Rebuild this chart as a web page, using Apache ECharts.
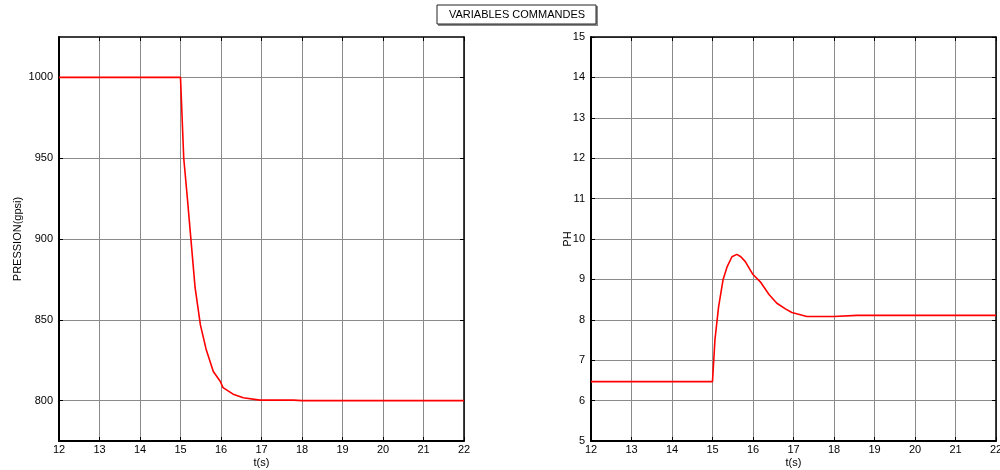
<!DOCTYPE html>
<html><head><meta charset="utf-8">
<script src="https://cdn.jsdelivr.net/npm/echarts@6/dist/echarts.min.js"></script>
<style>html,body{margin:0;padding:0;background:#fff}#c{width:1000px;height:470px}</style>
</head><body><div id="c"></div>
<script>
const xTicks = [12,13,14,15,16,17,18,19,20,21,22];
const pressTicks = [800,850,900,950,1000];
const phTicks = [5,6,7,8,9,10,11,12,13,14,15];
const pressT = [12,15,15.08,15.16,15.26,15.36,15.49,15.63,15.81,15.98,16.05,16.3,16.55,16.96,17.4,17.79,18.0,22];
const pressV = [1000,1000,950,928,899,870,847,832,818,812,808,804,801.8,800.3,800.3,800.3,800,800];
const phT = [12,15,15.06,15.15,15.26,15.36,15.48,15.6,15.7,15.81,16.0,16.18,16.4,16.59,16.8,16.96,17.33,18.0,18.57,19.15,22];
const phV = [6.47,6.47,7.5,8.32,8.99,9.31,9.56,9.62,9.56,9.44,9.12,8.94,8.62,8.41,8.27,8.18,8.08,8.08,8.11,8.11,8.11];

const font = 'Liberation Sans, Arial, sans-serif';
const gridColor = '#8a8a8a';
const plain = v => String(v);
function xAxisPair(gi){
  return [{
    type:'value', gridIndex:gi, min:12, max:22, interval:1, position:'bottom',
    axisLine:{show:true,onZero:false,lineStyle:{color:'#000',width:2}},
    axisTick:{show:true,inside:true,length:4,customValues:xTicks,lineStyle:{color:'#000'}},
    axisLabel:{color:'#000',fontFamily:font,fontSize:11,margin:3,customValues:xTicks,formatter:plain},
    splitLine:{show:true,lineStyle:{color:gridColor,width:1}},
    name:'t(s)', nameLocation:'middle', nameGap:16, nameMoveOverlap:false,
    nameTextStyle:{color:'#000',fontFamily:font,fontSize:11}
  },{
    type:'value', gridIndex:gi, min:12, max:22, interval:1, position:'top',
    axisLine:{show:true,onZero:false,lineStyle:{color:'#000',width:1.5}},
    axisTick:{show:true,inside:true,length:4,lineStyle:{color:'#000'}},
    axisLabel:{show:false}, splitLine:{show:false}
  }];
}
function yAxisPair(gi,min,max,ticks,name,gap){
  return [{
    type:'value', gridIndex:gi, min:min, max:max, position:'left',
    axisLine:{show:true,onZero:false,lineStyle:{color:'#000',width:2}},
    axisTick:{show:true,inside:true,length:4,customValues:ticks,lineStyle:{color:'#000'}},
    axisLabel:{color:'#000',fontFamily:font,fontSize:11,margin:6,customValues:ticks,formatter:plain},
    splitLine:{show:true,lineStyle:{color:gridColor,width:1}},
    name:name, nameLocation:'middle', nameGap:gap, nameMoveOverlap:false,
    nameTextStyle:{color:'#000',fontFamily:font,fontSize:11}
  },{
    type:'value', gridIndex:gi, min:min, max:max, position:'right',
    axisLine:{show:true,onZero:false,lineStyle:{color:'#000',width:1.5}},
    axisTick:{show:true,inside:true,length:4,customValues:ticks,lineStyle:{color:'#000'}},
    axisLabel:{show:false}, splitLine:{show:false}
  }];
}
const chart = echarts.init(document.getElementById('c'), null, {renderer:'canvas'});
chart.setOption({
  animation:false,
  backgroundColor:'#fff',
  graphic:[{
    type:'group', children:[
      {type:'rect', shape:{x:438,y:6,width:160,height:20}, style:{fill:'#888'}},
      {type:'rect', shape:{x:437,y:5,width:159,height:19}, style:{fill:'#fff',stroke:'#222',lineWidth:1}},
      {type:'text', x:517, y:15, style:{text:'VARIABLES COMMANDES',fontFamily:font,fontSize:11,fill:'#000',align:'center',verticalAlign:'middle'}}
    ]
  }],
  grid:[
    {left:59,right:536,top:37,bottom:29,outerBoundsMode:'none',containLabel:false},
    {left:591,right:4,top:37,bottom:29,outerBoundsMode:'none',containLabel:false}
  ],
  xAxis:[...xAxisPair(0), ...xAxisPair(1)],
  yAxis:[...yAxisPair(0,775,1025,pressTicks,'PRESSION(gpsi)',36), ...yAxisPair(1,5,15,phTicks,'PH',18)],
  series:[
    {type:'line', xAxisIndex:0, yAxisIndex:0, showSymbol:false, lineStyle:{color:'#ff0000',width:1.6},
     data: pressT.map((t,i)=>[t,pressV[i]])},
    {type:'line', xAxisIndex:2, yAxisIndex:2, showSymbol:false, lineStyle:{color:'#ff0000',width:1.6},
     data: phT.map((t,i)=>[t,phV[i]])}
  ]
});
</script></body></html>
